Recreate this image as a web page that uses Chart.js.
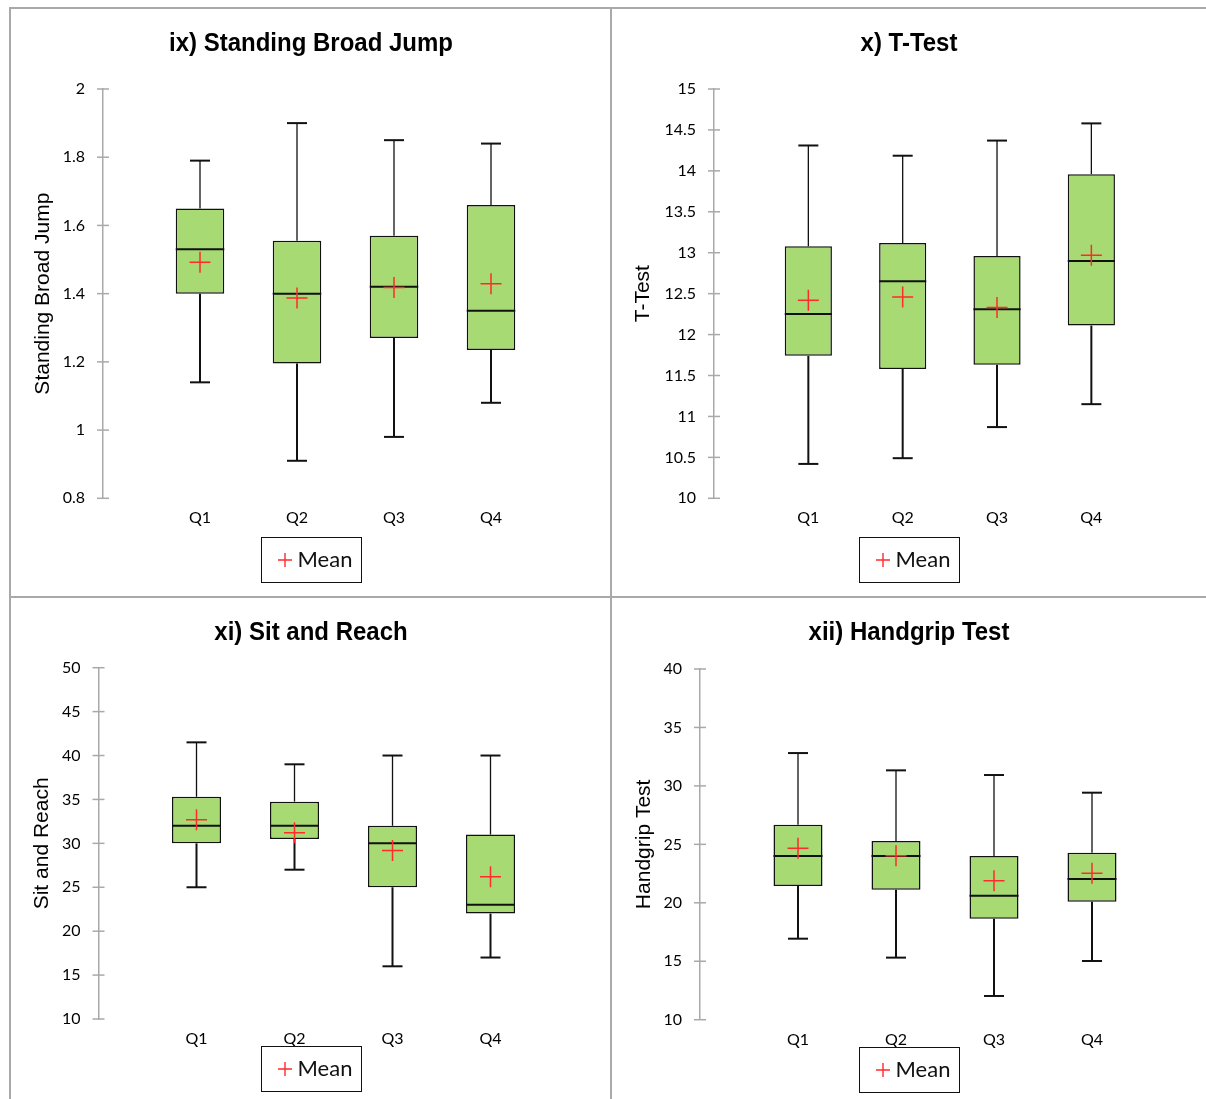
<!DOCTYPE html>
<html>
<head>
<meta charset="utf-8">
<script src="https://cdn.jsdelivr.net/npm/chart.js@4.4.1/dist/chart.umd.min.js"></script>
<style>
html,body{margin:0;padding:0;background:#fff;}
body{width:1206px;height:1099px;position:relative;overflow:hidden;}
canvas{position:absolute;}
.ln{position:absolute;background:#a9a9a9;z-index:5;}
</style>
</head>
<body>
<div class="ln" style="left:9px;top:7px;width:1197px;height:2px"></div>
<div class="ln" style="left:9px;top:7px;width:2px;height:1092px"></div>
<div class="ln" style="left:610px;top:7px;width:2px;height:1092px"></div>
<div class="ln" style="left:9px;top:596px;width:1197px;height:2px"></div>

<canvas id="cA" width="600" height="588" style="left:11px;top:9px"></canvas>
<canvas id="cB" width="594" height="588" style="left:612px;top:9px"></canvas>
<canvas id="cC" width="600" height="501" style="left:11px;top:598px"></canvas>
<canvas id="cD" width="594" height="501" style="left:612px;top:598px"></canvas>

<script>
// ---------- data ----------
const categories = ['Q1', 'Q2', 'Q3', 'Q4'];
const legendLabel = 'Mean';

// ix) Standing Broad Jump
const jumpMin    = [1.14, 0.91, 0.98, 1.08];
const jumpQ1     = [1.40, 1.195, 1.27, 1.235];
const jumpMedian = [1.53, 1.40, 1.42, 1.35];
const jumpQ3     = [1.65, 1.555, 1.57, 1.66];
const jumpMax    = [1.79, 1.90, 1.85, 1.84];
const jumpMean   = [1.492, 1.387, 1.418, 1.429];

// x) T-Test
const tMin    = [10.42, 10.49, 10.87, 11.15];
const tQ1     = [11.74, 11.58, 11.63, 12.11];
const tMedian = [12.25, 12.65, 12.31, 12.90];
const tQ3     = [13.08, 13.12, 12.96, 13.96];
const tMax    = [14.31, 14.185, 14.37, 14.58];
const tMean   = [12.42, 12.46, 12.33, 12.97];

// xi) Sit and Reach
const sitMin    = [25, 27, 16, 17];
const sitQ1     = [30, 30.5, 25, 22];
const sitMedian = [32, 32, 30, 23];
const sitQ3     = [35.3, 34.75, 32, 31];
const sitMax    = [41.5, 39, 40, 40];
const sitMean   = [32.7, 31.2, 29.2, 26.2];

// xii) Handgrip Test
const gripMin    = [16.93, 15.31, 12.03, 15.02];
const gripQ1     = [21.44, 21.12, 18.64, 20.10];
const gripMedian = [24.0, 24.0, 20.61, 22.04];
const gripQ3     = [26.68, 25.29, 24.0, 24.29];
const gripMax    = [32.81, 31.33, 30.93, 29.42];
const gripMean   = [24.66, 24.03, 21.89, 22.52];

// axis ranges / titles
const panels = [
  {id:'cA', title:'ix) Standing Broad Jump', yTitle:'Standing Broad Jump', yMin:0.8, yMax:2, yStep:0.2,
   min:jumpMin, q1:jumpQ1, med:jumpMedian, q3:jumpQ3, max:jumpMax, mean:jumpMean},
  {id:'cB', title:'x) T-Test', yTitle:'T-Test', yMin:10, yMax:15, yStep:0.5,
   min:tMin, q1:tQ1, med:tMedian, q3:tQ3, max:tMax, mean:tMean},
  {id:'cC', title:'xi) Sit and Reach', yTitle:'Sit and Reach', yMin:10, yMax:50, yStep:5,
   min:sitMin, q1:sitQ1, med:sitMedian, q3:sitQ3, max:sitMax, mean:sitMean},
  {id:'cD', title:'xii) Handgrip Test', yTitle:'Handgrip Test', yMin:10, yMax:40, yStep:5,
   min:gripMin, q1:gripQ1, med:gripMedian, q3:gripQ3, max:gripMax, mean:gripMean}
];

// ---------- layout (styles only) ----------
const XH = 50;
const layouts = {
  cA:{left:92, right:23, top:80, bottom:48.7, xpad:9.5, titlePad:20, legendTop:528},
  cB:{left:102, right:20.3, top:80, bottom:48.7, xpad:9.5, titlePad:19, legendTop:528},
  cC:{left:87.5, right:22.5, top:69.7, bottom:30, xpad:10.5, titlePad:18.5, legendTop:448},
  cD:{left:88, right:16, top:71, bottom:29.3, xpad:10.5, titlePad:19.5, legendTop:449}
};

const MEAN_COLOR = '#ff2a2a';
const BOX_FILL = '#a8da74';
const AXIS_COLOR = '#a9a9a9';

const boxPlugin = {
  id: 'boxWhisker',
  afterDatasetDraw(chart, args, opts) {
    if (args.index !== 0) return;
    const st = opts.stats;
    const xs = chart.scales.x, ys = chart.scales.y, ctx = chart.ctx;
    const meta = chart.getDatasetMeta(0);
    ctx.save();
    ctx.strokeStyle = '#111';
    ctx.lineCap = 'butt';
    categories.forEach((c, i) => {
      const cx = xs.getPixelForValue(i + 1);
      const half = meta.data[i + 1].width / 2;
      const pMax = ys.getPixelForValue(st.max[i]);
      const pQ3 = ys.getPixelForValue(st.q3[i]);
      const pQ1 = ys.getPixelForValue(st.q1[i]);
      const pMin = ys.getPixelForValue(st.min[i]);
      const pMed = ys.getPixelForValue(st.med[i]);
      // upper whisker
      ctx.lineWidth = 1.3;
      ctx.beginPath(); ctx.moveTo(cx, pQ3); ctx.lineTo(cx, pMax); ctx.stroke();
      ctx.lineWidth = 2;
      ctx.beginPath(); ctx.moveTo(cx - 10, pMax); ctx.lineTo(cx + 10, pMax); ctx.stroke();
      // lower whisker
      ctx.lineWidth = 2;
      ctx.beginPath(); ctx.moveTo(cx, pQ1); ctx.lineTo(cx, pMin); ctx.stroke();
      ctx.beginPath(); ctx.moveTo(cx - 10, pMin); ctx.lineTo(cx + 10, pMin); ctx.stroke();
      // median
      ctx.lineWidth = 2;
      ctx.beginPath(); ctx.moveTo(cx - half, pMed); ctx.lineTo(cx + half, pMed); ctx.stroke();
    });
    ctx.restore();
  },
  afterDraw(chart, args, opts) {
    const ctx = chart.ctx, ys = chart.scales.y;
    const ax = chart.chartArea.left;
    ctx.save();
    // crossing tick marks
    ctx.strokeStyle = AXIS_COLOR;
    ctx.lineWidth = 1.5;
    ys.ticks.forEach((t, k) => {
      const py = ys.getPixelForTick(k);
      ctx.beginPath(); ctx.moveTo(ax - 6, py); ctx.lineTo(ax + 6, py); ctx.stroke();
    });
    // title
    ctx.fillStyle = '#000';
    ctx.font = 'bold 24px "Liberation Sans", Arial, sans-serif';
    ctx.textAlign = 'center';
    ctx.textBaseline = 'alphabetic';
    ctx.save();
    ctx.translate(chart.width / 2, 42);
    ctx.scale(1, 1.04);
    ctx.fillText(opts.title, 0, 0);
    ctx.restore();
    // legend
    const bw = 100, bh = 45;
    const bx = Math.round(chart.width / 2 - bw / 2) + 0.5, by = opts.legendTop + 0.5;
    ctx.fillStyle = '#fff';
    ctx.fillRect(bx, by, bw, bh);
    ctx.strokeStyle = '#111';
    ctx.lineWidth = 1;
    ctx.strokeRect(bx, by, bw, bh);
    const cyl = by + bh / 2;
    const cxl = bx + 23.5;
    ctx.strokeStyle = MEAN_COLOR;
    ctx.lineWidth = 1.4;
    ctx.beginPath(); ctx.moveTo(cxl - 7, cyl); ctx.lineTo(cxl + 7, cyl);
    ctx.moveTo(cxl, cyl - 7); ctx.lineTo(cxl, cyl + 7); ctx.stroke();
    ctx.fillStyle = '#111';
    ctx.font = '22px Lato, "Open Sans", sans-serif';
    ctx.textAlign = 'left';
    ctx.textBaseline = 'middle';
    ctx.fillText(legendLabel, bx + 36, cyl);
    ctx.restore();
  }
};

function pad(arr) { return [null].concat(arr, [null]); }
function fmtTick(v) { return String(parseFloat(Number(v).toFixed(3))); }

panels.forEach(p => {
  const g = layouts[p.id];
  const labels = [''].concat(categories, ['']);
  const boxes = pad(p.q1.map((v, i) => [v, p.q3[i]]));
  new Chart(document.getElementById(p.id), {
    type: 'bar',
    data: {
      labels: labels,
      datasets: [
        {type:'bar', label:'Box', data: boxes, backgroundColor: BOX_FILL, borderColor:'#111',
         borderWidth:1.5, borderSkipped:false, barPercentage:0.5, categoryPercentage:1, order:2},
        {type:'line', label: legendLabel, data: pad(p.mean), showLine:false, pointStyle:'cross',
         pointRadius:10.5, pointHoverRadius:10.5, pointBorderColor: MEAN_COLOR, pointBackgroundColor: MEAN_COLOR,
         pointBorderWidth:1.5, order:1}
      ]
    },
    options: {
      responsive:false, animation:false, events:[],
      layout:{padding:{left:0, right:g.right, top:g.top, bottom:g.bottom}},
      plugins:{
        legend:{display:false}, title:{display:false}, tooltip:{enabled:false},
        boxWhisker:{stats:{min:p.min, q1:p.q1, med:p.med, q3:p.q3, max:p.max}, title:p.title, legendTop:g.legendTop}
      },
      scales:{
        x:{type:'category', offset:false, grid:{display:false, drawTicks:false}, border:{display:false},
           ticks:{font:{family:'Lato', size:16}, color:'#000', padding:g.xpad, maxRotation:0, autoSkip:false},
           afterFit(s){ s.height = XH; }},
        y:{type:'linear', min:p.yMin, max:p.yMax,
           ticks:{stepSize:p.yStep, font:{family:'Lato', size:16}, color:'#000', padding:18, callback: fmtTick},
           grid:{display:false, drawTicks:false}, border:{display:true, color:AXIS_COLOR, width:1.5},
           title:{display:true, text:p.yTitle, font:{family:'"Liberation Sans", Arial, sans-serif', size:21}, color:'#000',
                  padding:{top:g.titlePad, bottom:0}},
           afterFit(s){ s.width = g.left; }}
      }
    },
    plugins:[boxPlugin]
  });
});
</script>
</body>
</html>
